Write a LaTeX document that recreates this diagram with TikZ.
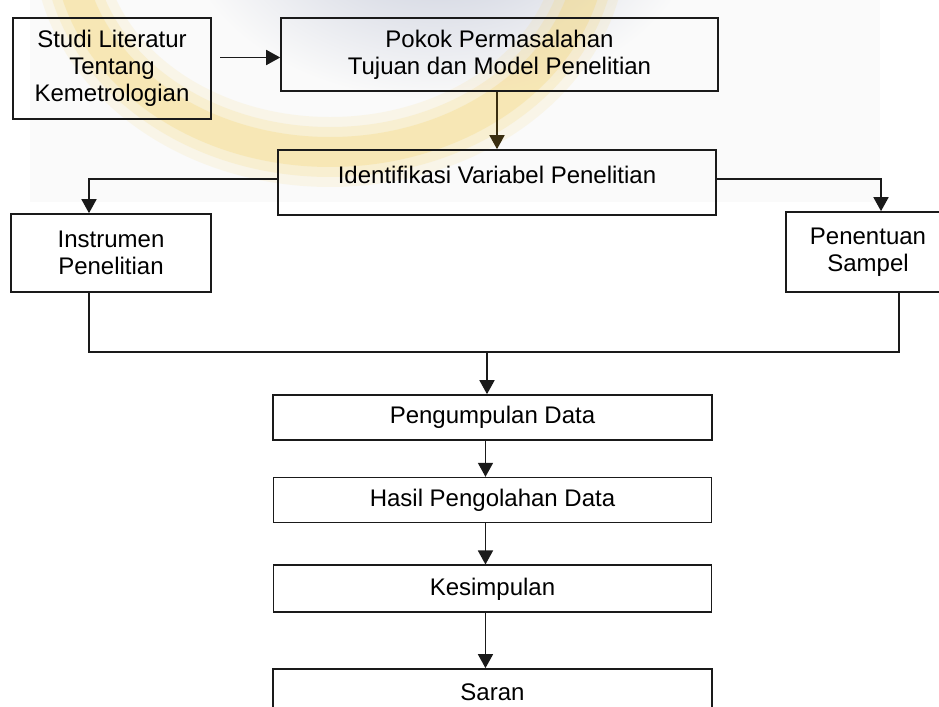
\documentclass[tikz,border=0pt]{standalone}
\usepackage{fontspec}
\setmainfont{Liberation Sans}
\usepackage{xcolor}
\usepackage{tikz}
\usetikzlibrary{arrows.meta,positioning,calc}
\definecolor{wmgrey}{HTML}{C3C8D8}
\definecolor{wmyellow}{HTML}{F6D56E}
\definecolor{ink}{HTML}{1A1A1A}
\definecolor{inkbrown}{HTML}{3A2E10}

\begin{document}
\begin{tikzpicture}[x=0.02cm,y=-0.02cm,
  font=\fontsize{13.66}{15.36}\selectfont,
  box/.style={draw=ink,line width=0.95pt,align=center,inner sep=0pt},
  arr/.style={-{Triangle[length=0.28cm,width=0.3cm]},draw=ink,line width=0.95pt},
  wire/.style={draw=ink,line width=0.95pt}]

  \useasboundingbox (0,0) rectangle (939,706);
  \clip (0,0) rectangle (939,706);

  % faded logo behind the top rows
  \begin{scope}
    \clip (30,0) rectangle (880,202);
    \fill[gray!4] (30,0) rectangle (880,202);
    \shade[inner color=wmgrey,outer color=gray!4] (440,-80) ellipse [x radius=260, y radius=180];
    \foreach \w/\o in {1.4/0.12,1.0/0.18,0.6/0.28} {
      \draw[wmyellow,line width=\w cm,opacity=\o] (330,-60) ellipse [x radius=262, y radius=212];
    }
  \end{scope}

  \node[box,minimum width=3.96cm,minimum height=2.02cm] (studi) at (112,68.5)
       {Studi Literatur\\Tentang\\Kemetrologian};
  \node[box,minimum width=8.74cm,minimum height=1.46cm] (pokok) at (499.5,54.5)
       {Pokok Permasalahan\\Tujuan dan Model Penelitian};
  \node[box,minimum width=8.76cm,text height=0.66cm,text depth=0.64cm] (ident) at (497,182.5)
       {Identifikasi Variabel Penelitian};
  \node[box,minimum width=4cm,minimum height=1.56cm] (instr) at (111,253)
       {Instrumen\\Penelitian};
  \node[box,minimum width=3.28cm,minimum height=1.6cm] (sampel) at (868,252)
       {Penentuan\\Sampel};

  \node[box,minimum width=8.78cm,minimum height=0.9cm] (peng) at (492.5,417.5)
       {Pengumpulan Data};
  \node[box,minimum width=8.76cm,minimum height=0.9cm,below=0.72cm of peng] (hasil)
       {Hasil Pengolahan Data};
  \node[box,minimum width=8.76cm,minimum height=0.94cm,below=0.82cm of hasil] (kesim)
       {Kesimpulan};
  \node[box,minimum width=8.78cm,minimum height=0.94cm,below=1.1cm of kesim] (saran)
       {Saran};

  \coordinate (lsplit) at (89,179);
  \coordinate (rsplit) at (881,179);
  \coordinate (lf) at (89,352);
  \coordinate (rt) at (899,352);
  \coordinate (merge) at (487,352);

  \draw[arr,shorten <=5\pgflinewidth] ($(studi.east)+(0,-11)$) -- (pokok.west |- {$(studi.east)+(0,-11)$});
  \draw[arr,draw=inkbrown] (pokok.south -| ident.north) -- (ident.north);
  \draw[arr] (ident.west |- lsplit) -- (lsplit) -- (instr.north -| lsplit);
  \draw[arr] (ident.east |- rsplit) -- (rsplit) -- (sampel.north -| rsplit);
  \draw[wire] (instr.south -| lf) -- (lf) -- (rt) -- (sampel.south -| rt);
  \draw[arr] (merge) -- (peng.north -| merge);
  \draw[arr] ([xshift=-4]peng.south) -- ([xshift=-4]peng.south |- hasil.north);
  \draw[arr] ([xshift=-4]hasil.south) -- ([xshift=-4]hasil.south |- kesim.north);
  \draw[arr] ([xshift=-4]kesim.south) -- ([xshift=-4]kesim.south |- saran.north);
\end{tikzpicture}
\end{document}
